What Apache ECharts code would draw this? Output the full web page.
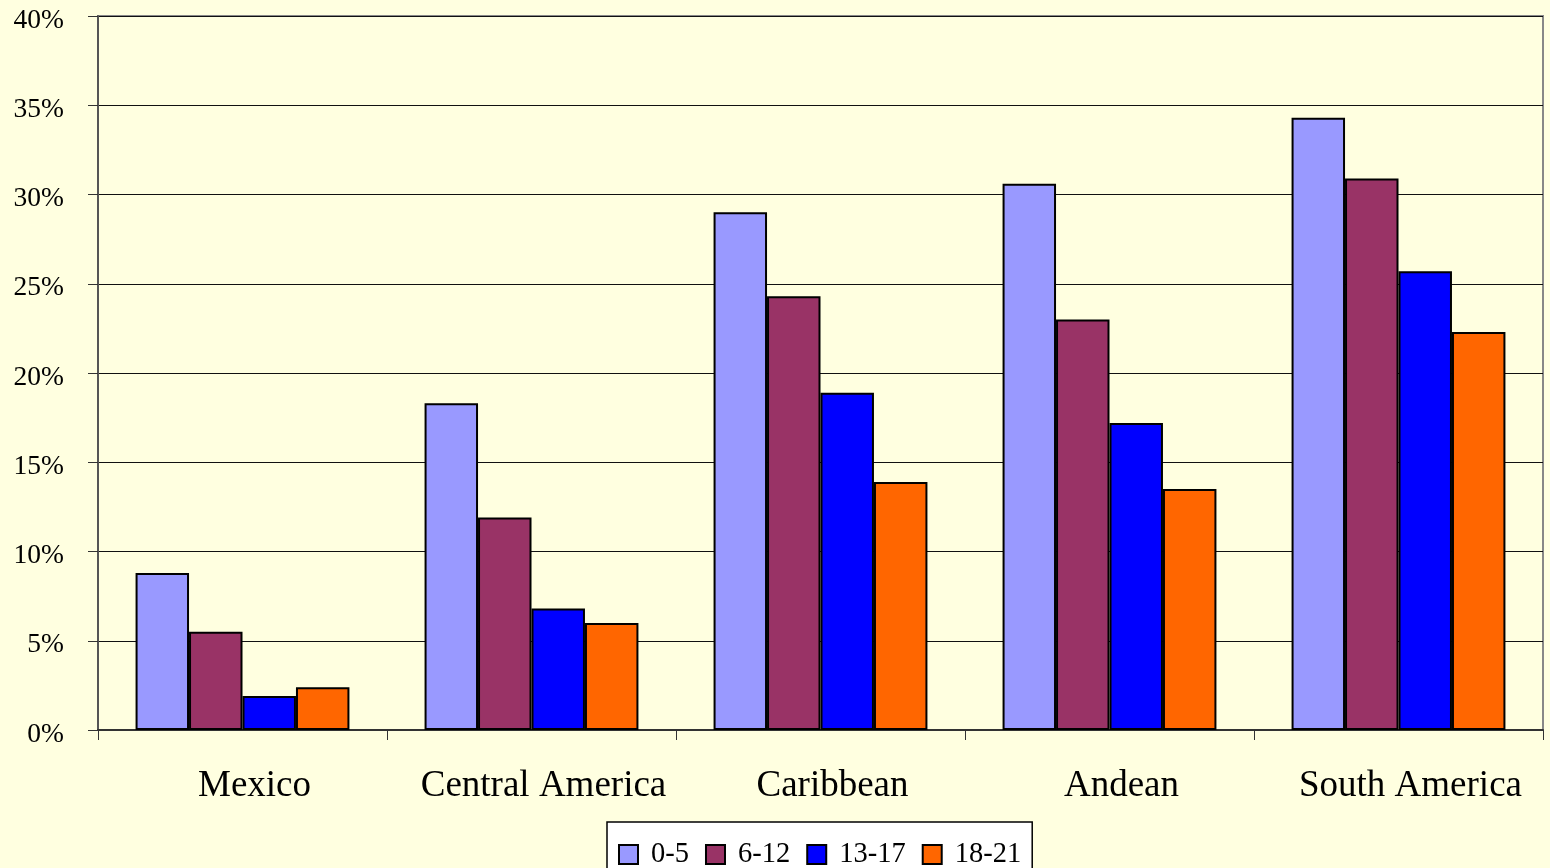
<!DOCTYPE html>
<html><head><meta charset="utf-8">
<script src="https://cdn.jsdelivr.net/npm/echarts@6/dist/echarts.min.js"></script>
<style>html,body{margin:0;padding:0;background:#FFFFE0;}#c{width:1550px;height:868px;}</style>
</head><body><div id="c"></div>
<script>
const categories = ['Mexico', 'Central America', 'Caribbean', 'Andean', 'South America'];
const seriesNames = ['0-5', '6-12', '13-17', '18-21'];
const s0_5 = [8.8, 18.3, 29.0, 30.6, 34.3];
const s6_12 = [5.5, 11.9, 24.3, 23.0, 30.9];
const s13_17 = [1.9, 6.8, 18.9, 17.2, 25.7];
const s18_21 = [2.4, 6.0, 13.9, 13.5, 22.3];
const colors = ['#9999FF', '#993366', '#0000FF', '#FF6600'];
const yTicks = [0, 5, 10, 15, 20, 25, 30, 35, 40];

const data = [s0_5, s6_12, s13_17, s18_21];
const chart = echarts.init(document.getElementById('c'));
const font = '"Liberation Serif", "Times New Roman", serif';
chart.setOption({
  backgroundColor: '#FFFFE0',
  animation: false,
  textStyle: { fontFamily: font },
  grid: { left: 98, right: 7, top: 16, bottom: 138, containLabel: false, show: true, borderColor: '#888', borderWidth: 2, backgroundColor: 'transparent' },
  legend: {
    bottom: -27, left: 607,
    data: seriesNames,
    icon: 'rect',
    itemWidth: 19, itemHeight: 19, itemGap: 16,
    padding: [18, 11, 26, 11],
    backgroundColor: '#ffffff', borderColor: '#000', borderWidth: 1.5,
    textStyle: { fontSize: 28.5, fontFamily: font, color: '#000', padding: [2, 0, 0, 8] }
  },
  xAxis: {
    type: 'category', data: categories,
    axisLine: { lineStyle: { color: '#333', width: 2 } },
    axisTick: { show: true, length: 10, alignWithLabel: false, lineStyle: { color: '#333' } },
    axisLabel: { interval: 0, fontSize: 37, color: '#000', margin: 38, fontFamily: font, padding: [0, 0, 0, 24] },
    splitLine: { show: false }
  },
  yAxis: {
    type: 'value', min: 0, max: 40, interval: 5,
    axisLine: { show: true, lineStyle: { color: '#555', width: 2 } },
    axisTick: { show: true, length: 10, lineStyle: { color: '#333' } },
    axisLabel: { fontSize: 27.5, color: '#000', margin: 34, fontFamily: font,
      formatter: v => yTicks.includes(v) ? '{a|' + v + '%}' : '',
      rich: { a: { fontSize: 27.5, fontFamily: font, color: '#000', padding: [9, 0, 0, 0] } } },
    splitLine: { show: true, lineStyle: { color: '#111', width: 1.2 } }
  },
  series: seriesNames.map((n, i) => ({
    name: n, type: 'bar', data: data[i],
    barGap: '0%', barCategoryGap: '26%',
    itemStyle: { color: colors[i], borderColor: '#000', borderWidth: 2 }
  }))
});
</script></body></html>
